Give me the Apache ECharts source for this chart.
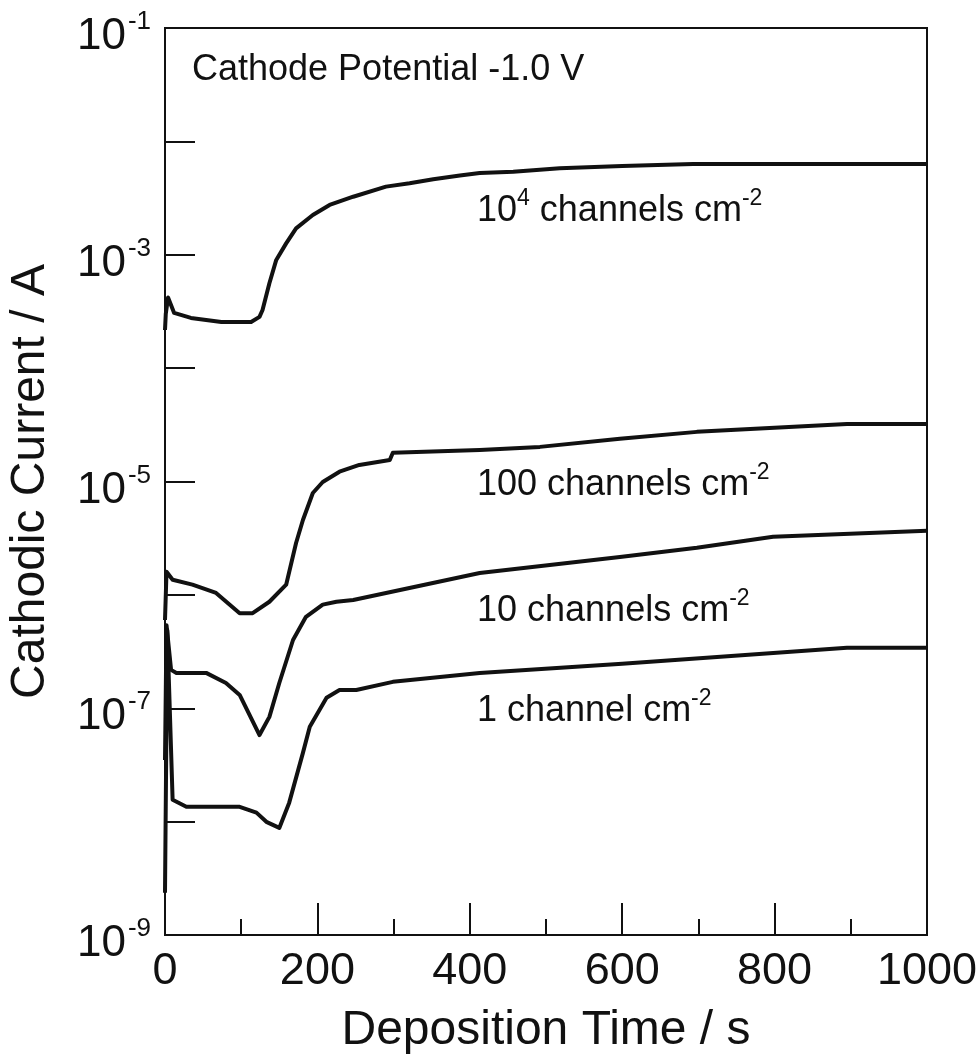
<!DOCTYPE html>
<html>
<head>
<meta charset="utf-8">
<title>Cathodic current vs deposition time</title>
<script src="https://cdn.jsdelivr.net/npm/echarts@6/dist/echarts.min.js"></script>
<style>
  html, body { margin: 0; padding: 0; background: #fff; }
  #chart { width: 980px; height: 1059px; }
</style>
</head>
<body>
<div id="chart"></div>
<script>
// data (time in s, current in A)
const t10000 = [0, 1, 4, 12, 34, 74, 113, 124, 128, 137, 146, 159, 172, 194, 216, 247, 290, 321, 352, 387, 413, 457, 518, 600, 693, 1000];
const i10000 = [2.17e-4, 3.0e-4, 4.2e-4, 3.07e-4, 2.77e-4, 2.55e-4, 2.55e-4, 2.83e-4, 3.26e-4, 5.61e-4, 9.0e-4, 1.26e-3, 1.71e-3, 2.24e-3, 2.75e-3, 3.25e-3, 3.99e-3, 4.27e-3, 4.63e-3, 4.99e-3, 5.26e-3, 5.40e-3, 5.79e-3, 6.07e-3, 6.32e-3, 6.32e-3];

const t100 = [0, 2, 10, 36, 67, 98, 115, 137, 159, 172, 181, 194, 207, 229, 255, 295, 299, 413, 492, 597, 698, 895, 1000];
const i100 = [6.0e-7, 1.60e-6, 1.36e-6, 1.23e-6, 1.04e-6, 6.9e-7, 6.9e-7, 8.7e-7, 1.23e-6, 2.87e-6, 4.58e-6, 7.92e-6, 9.9e-6, 1.22e-5, 1.40e-5, 1.55e-5, 1.79e-5, 1.90e-5, 2.02e-5, 2.38e-5, 2.74e-5, 3.22e-5, 3.22e-5];

const t10 = [0, 2, 8, 15, 54, 80, 98, 124, 137, 150, 168, 185, 207, 225, 247, 413, 597, 698, 798, 1000];
const i10 = [3.5e-8, 5.4e-7, 2.18e-7, 2.05e-7, 2.05e-7, 1.67e-7, 1.31e-7, 5.8e-8, 8.4e-8, 1.67e-7, 4.0e-7, 6.4e-7, 8.2e-7, 8.7e-7, 9.0e-7, 1.56e-6, 2.16e-6, 2.60e-6, 3.25e-6, 3.67e-6];

const t1 = [0, 3, 10, 28, 98, 120, 133, 150, 163, 181, 190, 212, 229, 251, 299, 413, 600, 895, 1000];
const i1 = [2.36e-9, 4.9e-7, 1.56e-8, 1.35e-8, 1.35e-8, 1.20e-8, 9.96e-9, 8.8e-9, 1.47e-8, 4.04e-8, 6.86e-8, 1.24e-7, 1.45e-7, 1.45e-7, 1.71e-7, 2.05e-7, 2.47e-7, 3.41e-7, 3.41e-7];

// labelled decades on the current axis
const yLabelExponents = [-9, -7, -5, -3, -1];

const FONT = "'Liberation Sans', Arial, Helvetica, sans-serif";
const INK = "#111";

function pairs(ts, vs) {
  return ts.map((t, k) => [t, vs[k]]);
}

function curve(name, ts, vs) {
  return {
    name: name,
    type: "line",
    data: pairs(ts, vs),
    showSymbol: false,
    symbol: "none",
    clip: true,
    lineStyle: { color: INK, width: 4, join: "round" },
  };
}

// rich styles shared by the in-plot labels
const noteRich = {
  n: { fontFamily: FONT, fontSize: 36, lineHeight: 42, verticalAlign: "bottom" },
  s: { fontFamily: FONT, fontSize: 23, lineHeight: 42, verticalAlign: "top" },
};

function note(x, y, text) {
  return {
    type: "text",
    x: x,
    y: y,
    style: { text: text, fill: INK, verticalAlign: "middle", rich: noteRich },
  };
}

const chart = echarts.init(document.getElementById("chart"));

const option = {
  animation: false,
  backgroundColor: "#fff",
  grid: {
    left: 165,
    right: 53,
    top: 28,
    bottom: 124,
    containLabel: false,
    outerBoundsMode: "none",
    show: true,
    borderColor: INK,
    borderWidth: 2,
    backgroundColor: "transparent",
  },
  xAxis: {
    type: "value",
    min: 0,
    max: 1000,
    interval: 200,
    name: "Deposition Time / s",
    nameLocation: "middle",
    nameGap: 72,
    nameTextStyle: { fontFamily: FONT, fontSize: 48, color: INK },
    axisLine: { show: true, lineStyle: { color: INK, width: 2 } },
    axisTick: { inside: true, length: 32, lineStyle: { color: INK, width: 2 } },
    minorTick: { show: true, splitNumber: 2, length: 16, lineStyle: { color: INK, width: 2 } },
    splitLine: { show: false },
    axisLabel: {
      fontFamily: FONT,
      fontSize: 45,
      color: INK,
      margin: 14,
      formatter: function (v) { return String(v); },
    },
  },
  yAxis: {
    type: "log",
    logBase: 10,
    min: 1e-9,
    max: 1e-1,
    name: "Cathodic Current / A",
    nameLocation: "middle",
    nameGap: 110,
    nameTextStyle: { fontFamily: FONT, fontSize: 48, color: INK, padding: [0, 0, 0, 0] },
    axisLine: { show: true, lineStyle: { color: INK, width: 2 } },
    axisTick: { inside: true, length: 30, lineStyle: { color: INK, width: 2 } },
    splitLine: { show: false },
    axisLabel: {
      margin: 14,
      padding: [12, 0, 0, 0],
      formatter: function (v) {
        const e = Math.round(Math.log10(v));
        if (yLabelExponents.indexOf(e) < 0) return "";
        return "{b|10}{s|" + e + "}";
      },
      rich: {
        b: { fontFamily: FONT, fontSize: 44, color: INK, lineHeight: 50, verticalAlign: "bottom" },
        s: { fontFamily: FONT, fontSize: 26, color: INK, lineHeight: 50, verticalAlign: "top", padding: [0, 0, 0, 2] },
      },
    },
  },
  graphic: [
    {
      type: "text",
      x: 192,
      y: 70,
      style: {
        text: "Cathode Potential -1.0 V",
        font: "36px " + FONT,
        fill: INK,
        verticalAlign: "middle",
      },
    },
    note(477, 208, "{n|10}{s|4}{n| channels cm}{s|-2}"),
    note(477, 482, "{n|100 channels cm}{s|-2}"),
    note(477, 608, "{n|10 channels cm}{s|-2}"),
    note(477, 708, "{n|1 channel cm}{s|-2}"),
  ],
  series: [
    curve("10^4 channels cm^-2", t10000, i10000),
    curve("100 channels cm^-2", t100, i100),
    curve("10 channels cm^-2", t10, i10),
    curve("1 channel cm^-2", t1, i1),
  ],
};

chart.setOption(option);
</script>
</body>
</html>
